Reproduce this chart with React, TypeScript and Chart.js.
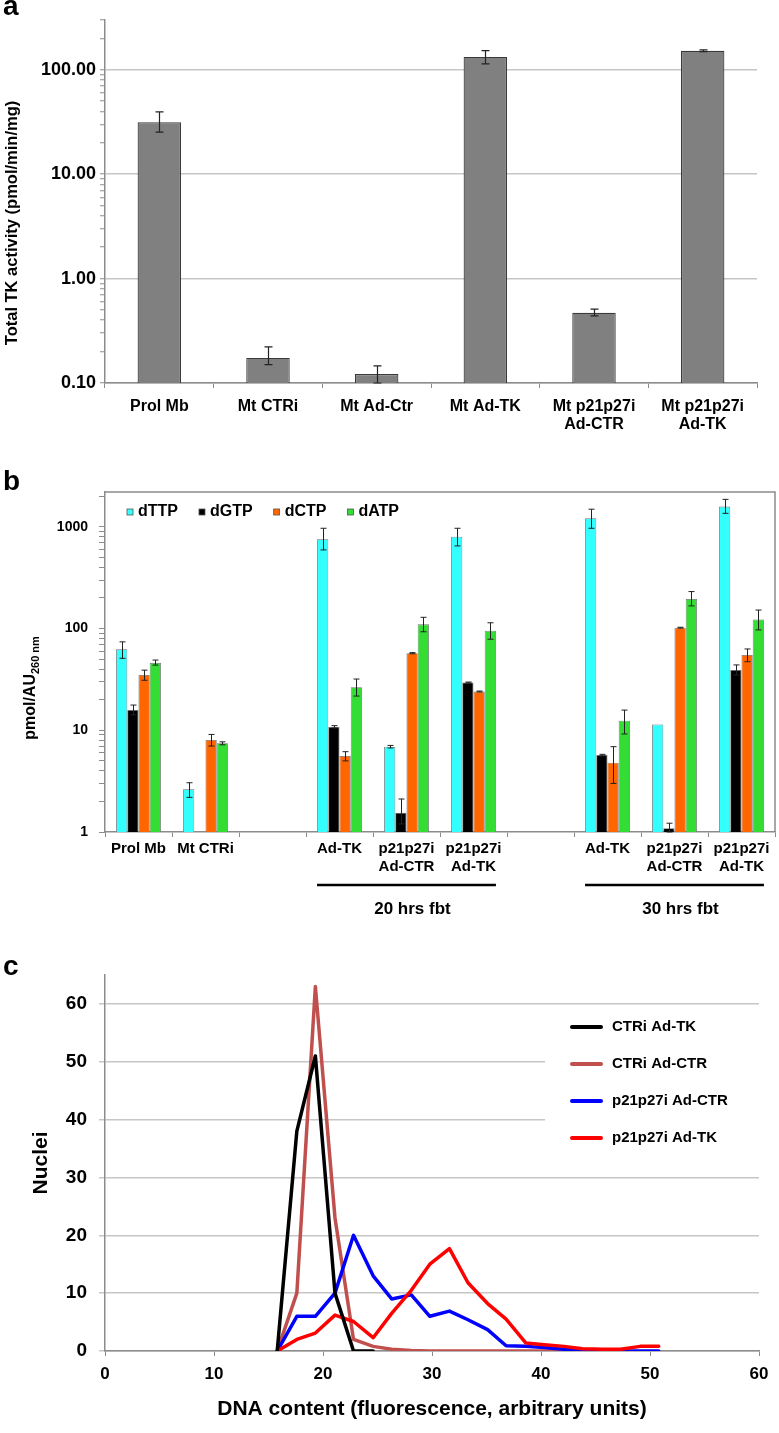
import React, { useEffect, useRef } from 'react';
import { Chart, registerables } from 'chart.js';

Chart.register(...registerables);

const FONT = "'Liberation Sans', Arial, Helvetica, sans-serif";
const bold = (size: number) => `bold ${size}px ${FONT}`;
const AXIS_GRAY = '#8c8c8c';
const GRID_GRAY = '#c6c6c6';
const W = 779;

// ---------------- Panel a : total TK activity ----------------
const tkCategories: (string | string[])[] = ['Prol Mb', 'Mt CTRi', 'Mt Ad-Ctr', 'Mt Ad-TK', ['Mt p21p27i', 'Ad-CTR'], ['Mt p21p27i', 'Ad-TK']];
const tkActivity = [31.5, 0.174, 0.122, 133, 0.47, 152];
const tkErrLow = [25.3, 0.15, 0.1, 114, 0.44, 149];
const tkErrHigh = [39.5, 0.222, 0.146, 153, 0.51, 155];
const tkMajorTicks = [0.1, 1, 10, 100];
const tkTickLabels = ['0.10', '1.00', '10.00', '100.00'];

// ---------------- Panel b : dNTP pools ----------------
const poolCategories: (string | string[])[] = ['Prol Mb', 'Mt CTRi', '', 'Ad-TK', ['p21p27i', 'Ad-CTR'], ['p21p27i', 'Ad-TK'], '', 'Ad-TK', ['p21p27i', 'Ad-CTR'], ['p21p27i', 'Ad-TK']];
const poolSeries = ['dTTP', 'dGTP', 'dCTP', 'dATP'];
const poolColors = ['#33FFFF', '#000000', '#FF6600', '#33DD33'];
const dTTP = [62.5, 2.63, null, 755, 6.9, 801, null, 1216, 11.4, 1580];
const dTTPLow = [51, 2.19, null, 593, 6.7, 649, null, 968, null, 1358];
const dTTPHigh = [74, 3.05, null, 968, 7.1, 968, null, 1490, null, 1862];
const dGTP = [15.8, null, null, 10.8, 1.55, 29.5, null, 5.71, 1.09, 39.2];
const dGTPLow = [14.2, null, null, 10.5, 1.2, 29.2, null, 5.6, 1.0, 35];
const dGTPHigh = [17.7, null, null, 11.1, 2.11, 29.8, null, 5.8, 1.22, 43.9];
const dCTP = [35, 8.03, null, 5.59, 57.2, 24, null, 4.8, 102, 55];
const dCTPLow = [31, 7.0, null, 5.0, 56.5, 23.8, null, 3.0, 101, 47.2];
const dCTPHigh = [39, 9.1, null, 6.16, 58, 24.3, null, 6.9, 103, 63];
const dATP = [46, 7.45, null, 26.5, 110, 95.4, null, 12.4, 195, 123];
const dATPLow = [43.7, 7.2, null, 21.7, 93, 78.5, null, 9.2, 167, 97];
const dATPHigh = [49, 7.7, null, 31.9, 129, 114, null, 15.8, 231, 152];
const poolMajorTicks = [1, 10, 100, 1000];
const poolTickLabels = ['1', '10', '100', '1000'];
const fbtGroups = ['20 hrs fbt', '30 hrs fbt'];
const fbtFrom = [3, 7];
const fbtTo = [5, 9];

// ---------------- Panel c : DNA content histograms ----------------
const dnaContent = [15.8, 17.6, 19.3, 21.1, 22.8, 24.6, 26.3, 28.1, 29.8, 31.6, 33.3, 35.1, 36.8, 38.6, 40.3, 42.1, 43.8, 45.6, 47.3, 49.1, 50.8];
const ctriAdTK = [0, 38, 51, 10, 0, 0];
const ctriAdCTR = [0, 10, 63, 23, 2, 0.8, 0.3, 0.1, 0, 0, 0, 0, 0, 0, 0, 0, 0];
const p21AdCTR = [0, 6, 6, 10, 20, 13, 9, 9.7, 6, 6.9, 5.4, 3.7, 0.9, 0.8, 0.6, 0.3, 0.1, 0, 0, 0, 0];
const p21AdTK = [0, 2, 3.1, 6.2, 5.1, 2.3, 6.5, 10.5, 15, 17.7, 11.8, 8.2, 5.5, 1.4, 1.1, 0.8, 0.4, 0.3, 0.3, 0.8, 0.8];
const histLabels = ['CTRi Ad-TK', 'CTRi Ad-CTR', 'p21p27i Ad-CTR', 'p21p27i Ad-TK'];
const histColors = ['#000000', '#C0504D', '#0000FF', '#FF0000'];

// ---------------- helpers ----------------
const A_H = 445;
const B_TOP = 445;
const B_H = 490;
const C_TOP = 935;
const C_H = 498;

const isDecade = (v: number) => Math.abs(Math.log10(v) - Math.round(Math.log10(v))) < 1e-6;
const keepIntegerMantissa = (scale: any) => {
  scale.ticks = scale.ticks.filter((t: any) => {
    const e = Math.floor(Math.log10(t.value) + 1e-9);
    const m = t.value / Math.pow(10, e);
    return Math.abs(m - Math.round(m)) < 1e-6;
  });
};
const labelFor = (ticks: number[], labels: string[]) => (v: any) => {
  const i = ticks.findIndex((t) => Math.abs(t - Number(v)) / t < 1e-6);
  return i >= 0 ? labels[i] : '';
};

type Part = { text: string; font: string; dy?: number };
type TextItem = { x: number; y: number; parts: Part[]; align?: 'left' | 'center' | 'right'; rotate?: number; baseline?: CanvasTextBaseline; color?: string };

function makeTextPlugin(items: TextItem[]) {
  return {
    id: 'freeText',
    afterDraw(chart: any) {
      const ctx: CanvasRenderingContext2D = chart.ctx;
      items.forEach((it) => {
        ctx.save();
        ctx.translate(it.x, it.y);
        if (it.rotate) ctx.rotate(it.rotate);
        ctx.fillStyle = it.color || '#000';
        ctx.textBaseline = it.baseline || 'middle';
        ctx.textAlign = 'left';
        let total = 0;
        const widths = it.parts.map((p) => {
          ctx.font = p.font;
          const w = ctx.measureText(p.text).width;
          total += w;
          return w;
        });
        let x = it.align === 'left' ? 0 : it.align === 'right' ? -total : -total / 2;
        it.parts.forEach((p, i) => {
          ctx.font = p.font;
          ctx.fillText(p.text, x, p.dy || 0);
          x += widths[i];
        });
        ctx.restore();
      });
    },
  };
}

type ErrSet = { low: (number | null)[]; high: (number | null)[] };
function makeErrorBars(sets: ErrSet[], cap: number, color: string, width: number) {
  return {
    id: 'errorBars',
    afterDatasetsDraw(chart: any) {
      const ctx: CanvasRenderingContext2D = chart.ctx;
      const ys = chart.scales.y;
      ctx.save();
      ctx.strokeStyle = color;
      ctx.lineWidth = width;
      sets.forEach((s, di) => {
        const meta = chart.getDatasetMeta(di);
        s.low.forEach((lo, i) => {
          const hi = s.high[i];
          if (lo == null || hi == null) return;
          const el = meta.data[i];
          if (!el) return;
          const x = Math.round(el.x) + 0.5;
          const y1 = ys.getPixelForValue(lo);
          const y2 = ys.getPixelForValue(hi);
          ctx.beginPath();
          ctx.moveTo(x, y1);
          ctx.lineTo(x, y2);
          ctx.moveTo(x - cap, y1);
          ctx.lineTo(x + cap, y1);
          ctx.moveTo(x - cap, y2);
          ctx.lineTo(x + cap, y2);
          ctx.stroke();
        });
      });
      ctx.restore();
    },
  };
}

const framePlugin = {
  id: 'frame',
  afterDraw(chart: any) {
    const { ctx, chartArea } = chart;
    ctx.save();
    ctx.strokeStyle = AXIS_GRAY;
    ctx.lineWidth = 1.5;
    ctx.beginPath();
    ctx.moveTo(chartArea.left, chartArea.top);
    ctx.lineTo(chartArea.right, chartArea.top);
    ctx.lineTo(chartArea.right, chartArea.bottom);
    ctx.stroke();
    ctx.restore();
  },
};

function makeGroupPlugin(lineY: number, labelY: number, labelDx: number) {
  return {
    id: 'groups',
    afterDraw(chart: any) {
      const ctx: CanvasRenderingContext2D = chart.ctx;
      const first = chart.getDatasetMeta(0);
      const last = chart.getDatasetMeta(chart.data.datasets.length - 1);
      ctx.save();
      fbtGroups.forEach((label, g) => {
        const a = first.data[fbtFrom[g]];
        const b = last.data[fbtTo[g]];
        const x1 = a.x - a.width / 2;
        const x2 = b.x + b.width / 2;
        ctx.strokeStyle = '#000';
        ctx.lineWidth = 2.5;
        ctx.beginPath();
        ctx.moveTo(x1, lineY);
        ctx.lineTo(x2, lineY);
        ctx.stroke();
        ctx.fillStyle = '#000';
        ctx.font = bold(17);
        ctx.textAlign = 'center';
        ctx.textBaseline = 'middle';
        ctx.fillText(label, (x1 + x2) / 2 + labelDx, labelY);
      });
      ctx.restore();
    },
  };
}

function makeRowLegend(x0: number, y: number, box: number, gap: number, spacing: number, size: number) {
  return {
    id: 'rowLegend',
    afterDraw(chart: any) {
      const ctx: CanvasRenderingContext2D = chart.ctx;
      ctx.save();
      ctx.font = bold(size);
      ctx.textBaseline = 'middle';
      ctx.textAlign = 'left';
      let x = x0;
      chart.data.datasets.forEach((ds: any) => {
        ctx.fillStyle = ds.backgroundColor;
        ctx.fillRect(x, y - box / 2, box, box);
        ctx.strokeStyle = '#555';
        ctx.lineWidth = 0.8;
        ctx.strokeRect(x, y - box / 2, box, box);
        ctx.fillStyle = '#000';
        const tx = x + box + gap;
        ctx.fillText(ds.label, tx, y);
        x = tx + ctx.measureText(ds.label).width + spacing;
      });
      ctx.restore();
    },
  };
}

function makeColumnLegend(rect: [number, number, number, number], lineX: number, lineLen: number, textX: number, y0: number, rowGap: number, size: number) {
  return {
    id: 'colLegend',
    afterDatasetsDraw(chart: any) {
      const ctx: CanvasRenderingContext2D = chart.ctx;
      ctx.save();
      ctx.fillStyle = '#fff';
      ctx.fillRect(rect[0], rect[1], rect[2], rect[3]);
      ctx.font = bold(size);
      ctx.textBaseline = 'middle';
      ctx.textAlign = 'left';
      chart.data.datasets.forEach((ds: any, i: number) => {
        const y = y0 + i * rowGap;
        ctx.strokeStyle = ds.borderColor;
        ctx.lineWidth = 4;
        ctx.lineCap = 'round';
        ctx.beginPath();
        ctx.moveTo(lineX, y);
        ctx.lineTo(lineX + lineLen, y);
        ctx.stroke();
        ctx.fillStyle = '#000';
        ctx.fillText(ds.label, textX, y);
      });
      ctx.restore();
    },
  };
}

// ---------------- chart configs ----------------
function configA(): any {
  return {
    type: 'bar',
    data: {
      labels: tkCategories,
      datasets: [
        {
          label: 'Total TK activity',
          data: tkActivity,
          backgroundColor: '#808080',
          borderColor: '#3a3a3a',
          borderWidth: 1.2,
          barPercentage: 0.4,
          categoryPercentage: 1,
        },
      ],
    },
    options: {
      responsive: false,
      maintainAspectRatio: false,
      animation: false,
      devicePixelRatio: 1,
      layout: { padding: { left: 0, top: 20, right: 22, bottom: 0 } },
      plugins: { legend: { display: false }, tooltip: { enabled: false } },
      scales: {
        x: {
          afterFit: (s: any) => { s.height = A_H - 383; },
          border: { color: AXIS_GRAY, width: 1.5 },
          grid: { offset: true, drawOnChartArea: false, tickLength: 5, color: AXIS_GRAY, lineWidth: 1 },
          ticks: { autoSkip: false, maxRotation: 0, padding: 9, color: '#000', font: { family: FONT, size: 16, weight: 'bold', lineHeight: 1.15 } },
        },
        y: {
          type: 'logarithmic',
          min: 0.1,
          max: 300,
          afterBuildTicks: keepIntegerMantissa,
          afterFit: (s: any) => { s.width = 105; },
          border: { color: AXIS_GRAY, width: 1.5 },
          grid: {
            color: (c: any) => (c.tick && isDecade(c.tick.value) ? GRID_GRAY : 'rgba(0,0,0,0)'),
            tickColor: AXIS_GRAY,
            lineWidth: 1.5,
            tickWidth: 1,
            tickLength: 5,
          },
          ticks: { autoSkip: false, padding: 4, color: '#000', font: { family: FONT, size: 18, weight: 'bold' }, callback: labelFor(tkMajorTicks, tkTickLabels) },
        },
      },
    },
    plugins: [
      makeErrorBars([{ low: tkErrLow, high: tkErrHigh }], 4, '#222', 1.2),
      makeTextPlugin([
        { x: 3, y: 15, parts: [{ text: 'a', font: bold(28) }], align: 'left', baseline: 'alphabetic' },
        { x: 12.5, y: 223, rotate: -Math.PI / 2, parts: [{ text: 'Total TK activity (pmol/min/mg)', font: bold(16.5) }] },
      ]),
    ],
  };
}

function configB(): any {
  const values = [dTTP, dGTP, dCTP, dATP];
  return {
    type: 'bar',
    data: {
      labels: poolCategories,
      datasets: poolSeries.map((name, i) => ({
        label: name,
        data: values[i],
        backgroundColor: poolColors[i],
        borderColor: '#6e6e6e',
        borderWidth: 0.8,
        barPercentage: 1,
        categoryPercentage: 0.67,
      })),
    },
    options: {
      responsive: false,
      maintainAspectRatio: false,
      animation: false,
      devicePixelRatio: 1,
      layout: { padding: { left: 0, top: 492 - B_TOP, right: W - 775, bottom: 0 } },
      plugins: { legend: { display: false }, tooltip: { enabled: false } },
      scales: {
        x: {
          afterFit: (s: any) => { s.height = B_H - (832 - B_TOP); },
          border: { color: AXIS_GRAY, width: 1.5 },
          grid: { offset: true, drawOnChartArea: false, tickLength: 5, color: AXIS_GRAY, lineWidth: 1 },
          ticks: { autoSkip: false, maxRotation: 0, padding: 3, color: '#000', font: { family: FONT, size: 15, weight: 'bold', lineHeight: 1.2 } },
        },
        y: {
          type: 'logarithmic',
          min: 1,
          max: 2200,
          afterBuildTicks: keepIntegerMantissa,
          afterFit: (s: any) => { s.width = 105; },
          border: { color: AXIS_GRAY, width: 1.5 },
          grid: { drawOnChartArea: false, color: AXIS_GRAY, lineWidth: 1, tickLength: 6 },
          ticks: { autoSkip: false, padding: 11, color: '#000', font: { family: FONT, size: 14, weight: 'bold' }, callback: labelFor(poolMajorTicks, poolTickLabels) },
        },
      },
    },
    plugins: [
      framePlugin,
      makeErrorBars(
        [
          { low: dTTPLow, high: dTTPHigh },
          { low: dGTPLow, high: dGTPHigh },
          { low: dCTPLow, high: dCTPHigh },
          { low: dATPLow, high: dATPHigh },
        ],
        3,
        '#222',
        1
      ),
      makeRowLegend(127, 512 - B_TOP, 6, 5, 21, 16),
      makeGroupPlugin(885 - B_TOP, 909 - B_TOP, 6),
      makeTextPlugin([
        { x: 3, y: 490 - B_TOP, parts: [{ text: 'b', font: bold(28) }], align: 'left', baseline: 'alphabetic' },
        {
          x: 31,
          y: 688 - B_TOP,
          rotate: -Math.PI / 2,
          parts: [
            { text: 'pmol/AU', font: bold(16) },
            { text: '260 nm', font: bold(11), dy: 5 },
          ],
        },
      ]),
    ],
  };
}

function configC(): any {
  const series = [ctriAdTK, ctriAdCTR, p21AdCTR, p21AdTK];
  const orders = [0, 3, 2, 1];
  return {
    type: 'line',
    data: {
      datasets: histLabels.map((name, i) => ({
        label: name,
        data: series[i].map((y, k) => ({ x: dnaContent[k], y })),
        borderColor: histColors[i],
        backgroundColor: histColors[i],
        borderWidth: 3.5,
        pointRadius: 0,
        tension: 0,
        fill: false,
        borderJoinStyle: 'round',
        borderCapStyle: 'round',
        order: orders[i],
      })),
    },
    options: {
      responsive: false,
      maintainAspectRatio: false,
      animation: false,
      devicePixelRatio: 1,
      layout: { padding: { left: 0, top: 975 - C_TOP, right: W - 759, bottom: 0 } },
      plugins: { legend: { display: false }, tooltip: { enabled: false } },
      scales: {
        x: {
          type: 'linear',
          min: 0,
          max: 60,
          afterFit: (s: any) => { s.height = C_H - (1351 - C_TOP); },
          border: { color: AXIS_GRAY, width: 1.5 },
          grid: { drawOnChartArea: false, tickLength: 5, color: AXIS_GRAY, lineWidth: 1 },
          ticks: { stepSize: 10, padding: 8, color: '#000', font: { family: FONT, size: 17, weight: 'bold' } },
          title: {
            display: true,
            text: 'DNA content (fluorescence, arbitrary units)',
            color: '#000',
            font: { family: FONT, size: 21, weight: 'bold', lineHeight: 1.2 },
            padding: { top: 0, bottom: 11 },
          },
        },
        y: {
          min: 0,
          max: 65,
          afterFit: (s: any) => { s.width = 105; },
          border: { color: AXIS_GRAY, width: 1.5 },
          grid: { color: GRID_GRAY, lineWidth: 1.5, tickLength: 6 },
          ticks: { stepSize: 10, includeBounds: false, padding: 12, color: '#000', font: { family: FONT, size: 19, weight: 'bold' } },
          title: {
            display: true,
            text: 'Nuclei',
            color: '#000',
            font: { family: FONT, size: 21, weight: 'bold', lineHeight: 1.2 },
            padding: { top: 29, bottom: 0 },
          },
        },
      },
    },
    plugins: [
      makeColumnLegend([545, 1012 - C_TOP, 214, 140], 572, 29, 612, 1027 - C_TOP, 37, 15),
      makeTextPlugin([{ x: 3, y: 975 - C_TOP, parts: [{ text: 'c', font: bold(28) }], align: 'left', baseline: 'alphabetic' }]),
    ],
  };
}

function ChartCanvas({ top, height, build }: { top: number; height: number; build: () => any }) {
  const ref = useRef<HTMLCanvasElement>(null);
  useEffect(() => {
    const chart = new Chart(ref.current as HTMLCanvasElement, build());
    return () => chart.destroy();
  }, []);
  return (
    <canvas
      ref={ref}
      width={W}
      height={height}
      style={{ position: 'absolute', left: 0, top, width: W, height, display: 'block' }}
    />
  );
}

export default function App() {
  return (
    <div style={{ position: 'absolute', left: 0, top: 0, width: W, height: 1433, background: '#fff', overflow: 'hidden' }}>
      <ChartCanvas top={0} height={A_H} build={configA} />
      <ChartCanvas top={B_TOP} height={B_H} build={configB} />
      <ChartCanvas top={C_TOP} height={C_H} build={configC} />
    </div>
  );
}
